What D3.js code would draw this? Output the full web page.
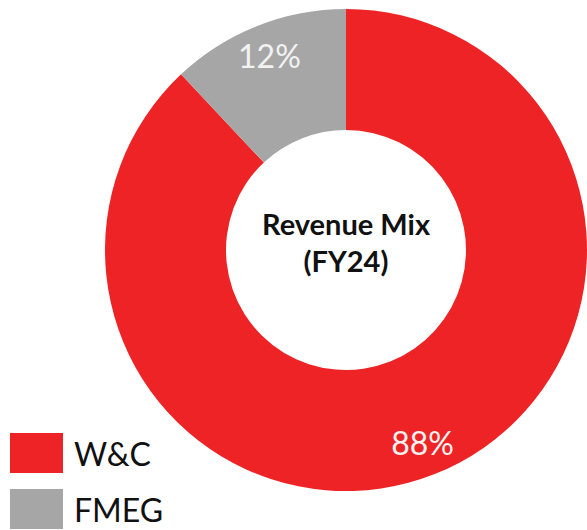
<!DOCTYPE html>
<html>
<head>
<meta charset="utf-8">
<script src="https://cdn.jsdelivr.net/npm/d3@7"></script>
<style>
  html, body { margin: 0; padding: 0; background: #fff; }
  svg { display: block; font-family: Lato, "Open Sans", sans-serif; }
</style>
</head>
<body>
<svg id="chart"></svg>
<script>
const categories = ["W&C", "FMEG"];
const shares = [88, 12];
const colors = ["#ee2326", "#a6a6a6"];
const centerTitle = ["Revenue Mix", "(FY24)"];

const size = { width: 587, height: 530 };
const center = { x: 346, y: 250 };
const outerR = 241;
const innerR = 120;
const labelR = 208;

const svg = d3
  .select("#chart")
  .attr("width", size.width)
  .attr("height", size.height);

const data = categories.map((name, i) => ({ name, value: shares[i] }));

const pie = d3.pie().sort(null).value((d) => d.value);
const arcs = pie(data);

const color = d3.scaleOrdinal().domain(categories).range(colors);

const arc = d3.arc().innerRadius(innerR).outerRadius(outerR);
const labelArc = d3.arc().innerRadius(labelR).outerRadius(labelR);

const donut = svg
  .append("g")
  .attr("transform", `translate(${center.x}, ${center.y})`);

donut
  .selectAll("path")
  .data(arcs)
  .enter()
  .append("path")
  .attr("d", arc)
  .attr("fill", (d) => color(d.data.name));

donut
  .selectAll("text.pct")
  .data(arcs)
  .enter()
  .append("text")
  .attr("class", "pct")
  .attr("transform", (d) => `translate(${labelArc.centroid(d)})`)
  .attr("text-anchor", "middle")
  .attr("dy", "0.36em")
  .attr("font-size", 32)
  .attr("fill", "#f2f2f2")
  .text((d) => d.data.value + "%");

// title in the hole
donut
  .selectAll("text.title")
  .data(centerTitle)
  .enter()
  .append("text")
  .attr("class", "title")
  .attr("text-anchor", "middle")
  .attr("y", (d, i) => -15 + i * 37)
  .attr("font-size", 29)
  .attr("font-weight", "bold")
  .attr("fill", "#111")
  .text((d) => d);

// legend, bottom left
const legend = svg
  .selectAll("g.legend")
  .data(categories)
  .enter()
  .append("g")
  .attr("class", "legend")
  .attr("transform", (d, i) => `translate(10, ${433 + i * 56})`);

legend
  .append("rect")
  .attr("width", 53)
  .attr("height", 40)
  .attr("fill", (d) => color(d));

legend
  .append("text")
  .attr("x", 64)
  .attr("y", 33)
  .attr("font-size", 32)
  .attr("fill", "#111")
  .text((d) => d);
</script>
</body>
</html>
